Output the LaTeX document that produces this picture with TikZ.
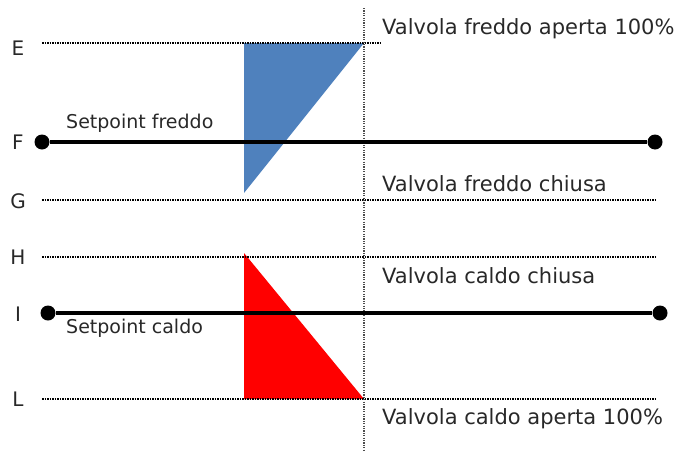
\documentclass[tikz,border=0pt]{standalone}
\usepackage{fontspec}
\setmainfont{DejaVu Sans}
\definecolor{freddo}{RGB}{79,129,189}
\definecolor{testo}{RGB}{40,40,40}
\tikzset{
	level/.style={line width=2.4pt, dash pattern=on 1.5pt off 1pt},
	setline/.style={line width=3.5pt},
	punto/.style={shape=circle, fill=black, inner sep=0pt, minimum size=15pt},
	lettera/.style={text=testo, font=\fontsize{20}{20}\selectfont},
	valvola/.style={text=testo, anchor=west, inner sep=0pt, font=\fontsize{21}{21}\selectfont},
	setpoint/.style={text=testo, anchor=west, inner sep=0pt, font=\fontsize{19}{19}\selectfont}
}
\begin{document}
\begin{tikzpicture}[x=1pt, y=-1pt]
	\useasboundingbox (0,0) rectangle (679,450);

	\fill[freddo] (244,43) -- (364,43) -- (244,193) -- cycle;
	\fill[red]    (244,253) -- (244,399) -- (364,399) -- cycle;

	\node[lettera] (E) at (18,48)  {E};
	\node[lettera] (F) at (18,142) {F};
	\node[lettera] (G) at (18,201) {G};
	\node[lettera] (H) at (18,257) {H};
	\node[lettera] (I) at (18,314) {I};
	\node[lettera] (L) at (18,399) {L};

	\coordinate (e0) at (42,43);  \coordinate (e1) at (382,43);
	\coordinate (g0) at (42,200); \coordinate (g1) at (657,200);
	\coordinate (h0) at (42,257); \coordinate (h1) at (657,257);
	\coordinate (l0) at (42,399); \coordinate (l1) at (657,399);
	\coordinate (v0) at (364,8);  \coordinate (v1) at (364,450);

	\node[punto] (f0) at (42,142)  {};
	\node[punto] (f1) at (655,142) {};
	\node[punto] (i0) at (48,313)  {};
	\node[punto] (i1) at (660,313) {};

	\path [-, level] (e0) edge (e1);
	\path [-, level] (g0) edge (g1);
	\path [-, level] (h0) edge (h1);
	\path [-, level] (l0) edge (l1);
	\path [-, line width=1.8pt, dash pattern=on 1.2pt off 1.2pt, black!70] (v0) edge (v1);

	\path [-, setline] (f0) edge (f1);
	\path [-, setline] (i0) edge (i1);

	\node[setpoint] (sf) at (66,123) {Setpoint freddo};
	\node[setpoint] (sc) at (66,328) {Setpoint caldo};

	\node[valvola] (vfa) at (382,29)  {Valvola freddo aperta 100\%};
	\node[valvola] (vfc) at (382,184) {Valvola freddo chiusa};
	\node[valvola] (vcc) at (382,276) {Valvola caldo chiusa};
	\node[valvola] (vca) at (382,419) {Valvola caldo aperta 100\%};
\end{tikzpicture}
\end{document}
